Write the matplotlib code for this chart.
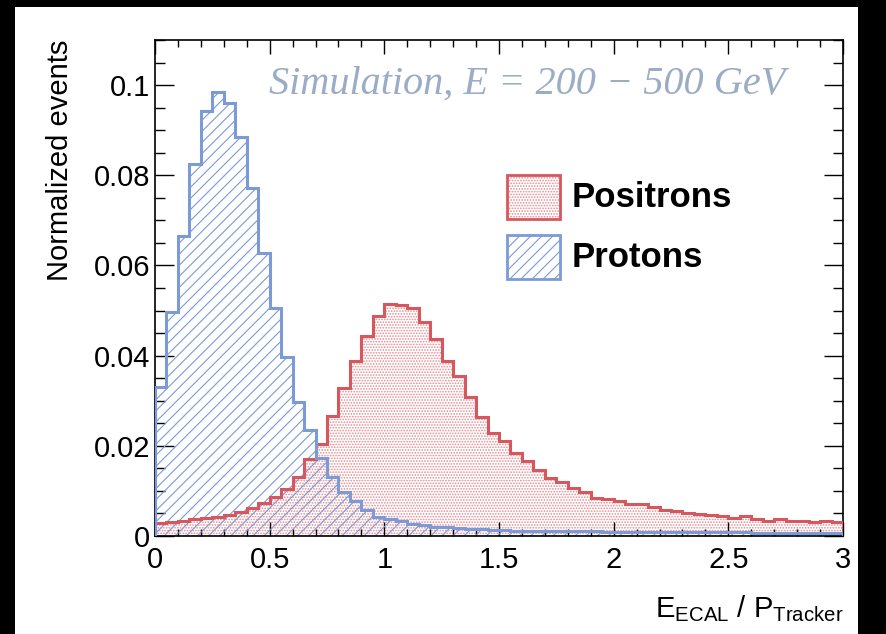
import numpy as np
import matplotlib
matplotlib.use("Agg")
import matplotlib.pyplot as plt
from matplotlib.patches import Rectangle
from matplotlib.ticker import MultipleLocator, FormatStrFormatter

# --- histogram contents (60 bins, 0 - 3) ---
x_min, x_max, n_bins = 0.0, 3.0, 60

positrons = [0.0029, 0.0030, 0.0033, 0.0037, 0.0041, 0.0042, 0.0047, 0.0054, 0.0061, 0.0074,
             0.0087, 0.0105, 0.0130, 0.0170, 0.0204, 0.0266, 0.0329, 0.0388, 0.0444, 0.0488,
             0.0514, 0.0512, 0.0505, 0.0475, 0.0438, 0.0388, 0.0355, 0.0309, 0.0263, 0.0228,
             0.0211, 0.0183, 0.0167, 0.0146, 0.0128, 0.0120, 0.0106, 0.0098, 0.0085, 0.0081,
             0.0078, 0.0071, 0.0071, 0.0065, 0.0058, 0.0055, 0.0052, 0.0049, 0.0047, 0.0044,
             0.0041, 0.0044, 0.0038, 0.0034, 0.0038, 0.0033, 0.0033, 0.0030, 0.0033, 0.0030]

protons = [0.0330, 0.0497, 0.0665, 0.0824, 0.0943, 0.0985, 0.0961, 0.0885, 0.0771, 0.0627,
           0.0505, 0.0396, 0.0298, 0.0235, 0.0172, 0.0130, 0.0097, 0.0078, 0.0058, 0.0043,
           0.0037, 0.0033, 0.0027, 0.0024, 0.0021, 0.0019, 0.0017, 0.0016, 0.0015, 0.0014,
           0.0013, 0.0012, 0.0012, 0.0011, 0.0011, 0.0011, 0.0010, 0.0010, 0.0010, 0.0009,
           0.0009, 0.0009, 0.0009, 0.0009, 0.0008, 0.0008, 0.0008, 0.0008, 0.0008, 0.0008,
           0.0008, 0.0008, 0.0007, 0.0007, 0.0007, 0.0007, 0.0007, 0.0007, 0.0007, 0.0007]

labels = ["Positrons", "Protons"]
title_text = "Simulation, E = 200 \u2212 500 GeV"

edges = np.linspace(x_min, x_max, n_bins + 1)

red = "#d6585e"
red_dots = "#e48a90"
blue = "#7b9ad6"

plt.rcParams["font.family"] = ["Liberation Sans", "DejaVu Sans"]
plt.rcParams["mathtext.fontset"] = "custom"
plt.rcParams["mathtext.rm"] = "Liberation Sans"
plt.rcParams["mathtext.it"] = "Liberation Sans"
plt.rcParams["hatch.linewidth"] = 0.8

fig = plt.figure(figsize=(8.86, 6.34), dpi=100, facecolor="black")
# white canvas inside the black frame
fig.add_artist(Rectangle((15 / 886, 0), (858 - 15) / 886, 627 / 634,
                         transform=fig.transFigure, facecolor="white",
                         edgecolor="none", zorder=-5))
ax = fig.add_axes([155 / 886, 98 / 634, 688 / 886, 496 / 634])

# fills first, outlines on top
ax.stairs(positrons, edges, fill=True, facecolor="none", edgecolor=red_dots,
          hatch="......", linewidth=0, zorder=1)
ax.stairs(protons, edges, fill=True, facecolor="none", edgecolor=blue,
          hatch="///", linewidth=0, zorder=2)
ax.stairs(positrons, edges, color=red, linewidth=2.2, zorder=3)
ax.stairs(protons, edges, color=blue, linewidth=2.2, zorder=4)

ax.set_xlim(x_min, x_max)
ax.set_ylim(0, 0.11)

ax.xaxis.set_major_locator(MultipleLocator(0.5))
ax.xaxis.set_minor_locator(MultipleLocator(0.1))
ax.yaxis.set_major_locator(MultipleLocator(0.02))
ax.yaxis.set_minor_locator(MultipleLocator(0.005))
ax.xaxis.set_major_formatter(FormatStrFormatter("%g"))
ax.yaxis.set_major_formatter(FormatStrFormatter("%g"))

ax.tick_params(which="both", direction="in", top=True, right=True,
               width=1.0, labelsize=21, colors="black")
ax.tick_params(axis="x", which="major", length=10, pad=7)
ax.tick_params(axis="x", which="minor", length=5)
ax.tick_params(axis="y", which="major", length=14, pad=3.5)
ax.tick_params(axis="y", which="minor", length=7)
for s in ax.spines.values():
    s.set_linewidth(1.2)

ax.set_ylabel("Normalized events", fontsize=21, loc="top", labelpad=14)
ax.set_xlabel(r"$\mathregular{E_{ECAL}}$ / $\mathregular{P_{Tracker}}$",
              fontsize=21, loc="right", labelpad=14)

ax.text(0.165, 0.91, title_text, transform=ax.transAxes, fontsize=29,
        family="Liberation Serif", style="italic", color="#9bacc6",
        ha="left", va="center")

# legend drawn by hand (ROOT style boxes)
ax.add_patch(Rectangle((0.511, 0.64), 0.078, 0.087, transform=ax.transAxes,
                       facecolor="none", edgecolor=red_dots, hatch="......",
                       linewidth=0, zorder=5))
ax.add_patch(Rectangle((0.511, 0.64), 0.078, 0.087, transform=ax.transAxes,
                       facecolor="none", edgecolor=red, linewidth=2.0, zorder=6))
ax.add_patch(Rectangle((0.511, 0.519), 0.078, 0.087, transform=ax.transAxes,
                       facecolor="none", edgecolor=blue, hatch="///",
                       linewidth=0, zorder=5))
ax.add_patch(Rectangle((0.511, 0.519), 0.078, 0.087, transform=ax.transAxes,
                       facecolor="none", edgecolor=blue, linewidth=2.0, zorder=6))
ax.text(0.606, 0.683, labels[0], transform=ax.transAxes, fontsize=25,
        fontweight="bold", ha="left", va="center")
ax.text(0.606, 0.562, labels[1], transform=ax.transAxes, fontsize=25,
        fontweight="bold", ha="left", va="center")

fig.savefig("out.png", dpi=100, facecolor=fig.get_facecolor())
